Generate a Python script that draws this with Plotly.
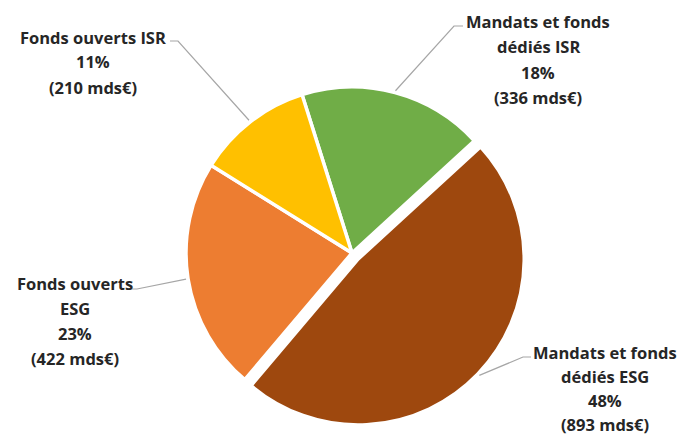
import math
import plotly.graph_objects as go

# ---- data ----
categories = ["Mandats et fonds dédiés ISR", "Mandats et fonds dédiés ESG",
              "Fonds ouverts ESG", "Fonds ouverts ISR"]
values = [336, 893, 422, 210]          # mds€
percents = [18, 48, 23, 11]
label_lines = [
    ["Mandats et fonds", "dédiés ISR"],
    ["Mandats et fonds", "dédiés ESG"],
    ["Fonds ouverts", "ESG"],
    ["Fonds ouverts ISR"],
]
colors = ["#70AD47", "#9E480E", "#ED7D31", "#FFC000"]
pulls = [0, 0.052, 0, 0]

# ---- layout constants (pixels) ----
W, H = 682, 437
CX, CY, R = 352, 253, 166
ROT = -17.5
# label block: (center x, first-line center y, line gap), elbow point, tick end point
label_pos = [
    (538, 22, 25),
    (605, 352, 24),
    (75, 283, 25),
    (93, 37, 25),
]
elbows = [(454, 26), (523, 357), (137, 289), (178, 41)]
tick_ends = [(463, 26), (531, 357), (128, 289), (170, 41)]

def px(x):
    return x / W

def py(y):
    return 1 - y / H

half = R * (1 + max(pulls))
fig = go.Figure(go.Pie(
    labels=categories, values=values, sort=False, direction="clockwise",
    rotation=ROT, pull=pulls, textinfo="none", hoverinfo="label+value+percent",
    marker=dict(colors=colors, line=dict(color="white", width=3.5)),
    domain=dict(x=[px(CX - half), px(CX + half)], y=[py(CY + half), py(CY - half)]),
    showlegend=False,
))

total = sum(values)
cum = ROT
shapes, annotations = [], []
for i, v in enumerate(values):
    span = 360 * v / total
    mid = math.radians(cum + span / 2)
    cum += span
    off = pulls[i] * R
    ox, oy = CX + off * math.sin(mid), CY - off * math.cos(mid)
    ax, ay = ox + (R + 2) * math.sin(mid), oy - (R + 2) * math.cos(mid)
    ex, ey = elbows[i]
    tx, ty = tick_ends[i]
    shapes.append(dict(type="path", xref="paper", yref="paper",
                       path=f"M {px(ax)},{py(ay)} L {px(ex)},{py(ey)} L {px(tx)},{py(ty)}",
                       line=dict(color="#A6A6A6", width=1.2)))
    lines = label_lines[i] + [f"{percents[i]}%", f"({v} mds€)"]
    lx, ly, gap = label_pos[i]
    for k, t in enumerate(lines):
        annotations.append(dict(
            x=px(lx), y=py(ly + k * gap), xref="paper", yref="paper",
            text=t, showarrow=False, xanchor="center", yanchor="middle",
            font=dict(family="Open Sans", size=16.5, color="#262626", weight="bold"),
        ))

fig.update_layout(
    width=W, height=H, margin=dict(l=0, r=0, t=0, b=0),
    paper_bgcolor="white", plot_bgcolor="white",
    shapes=shapes, annotations=annotations,
)
fig.write_html("out.html")
